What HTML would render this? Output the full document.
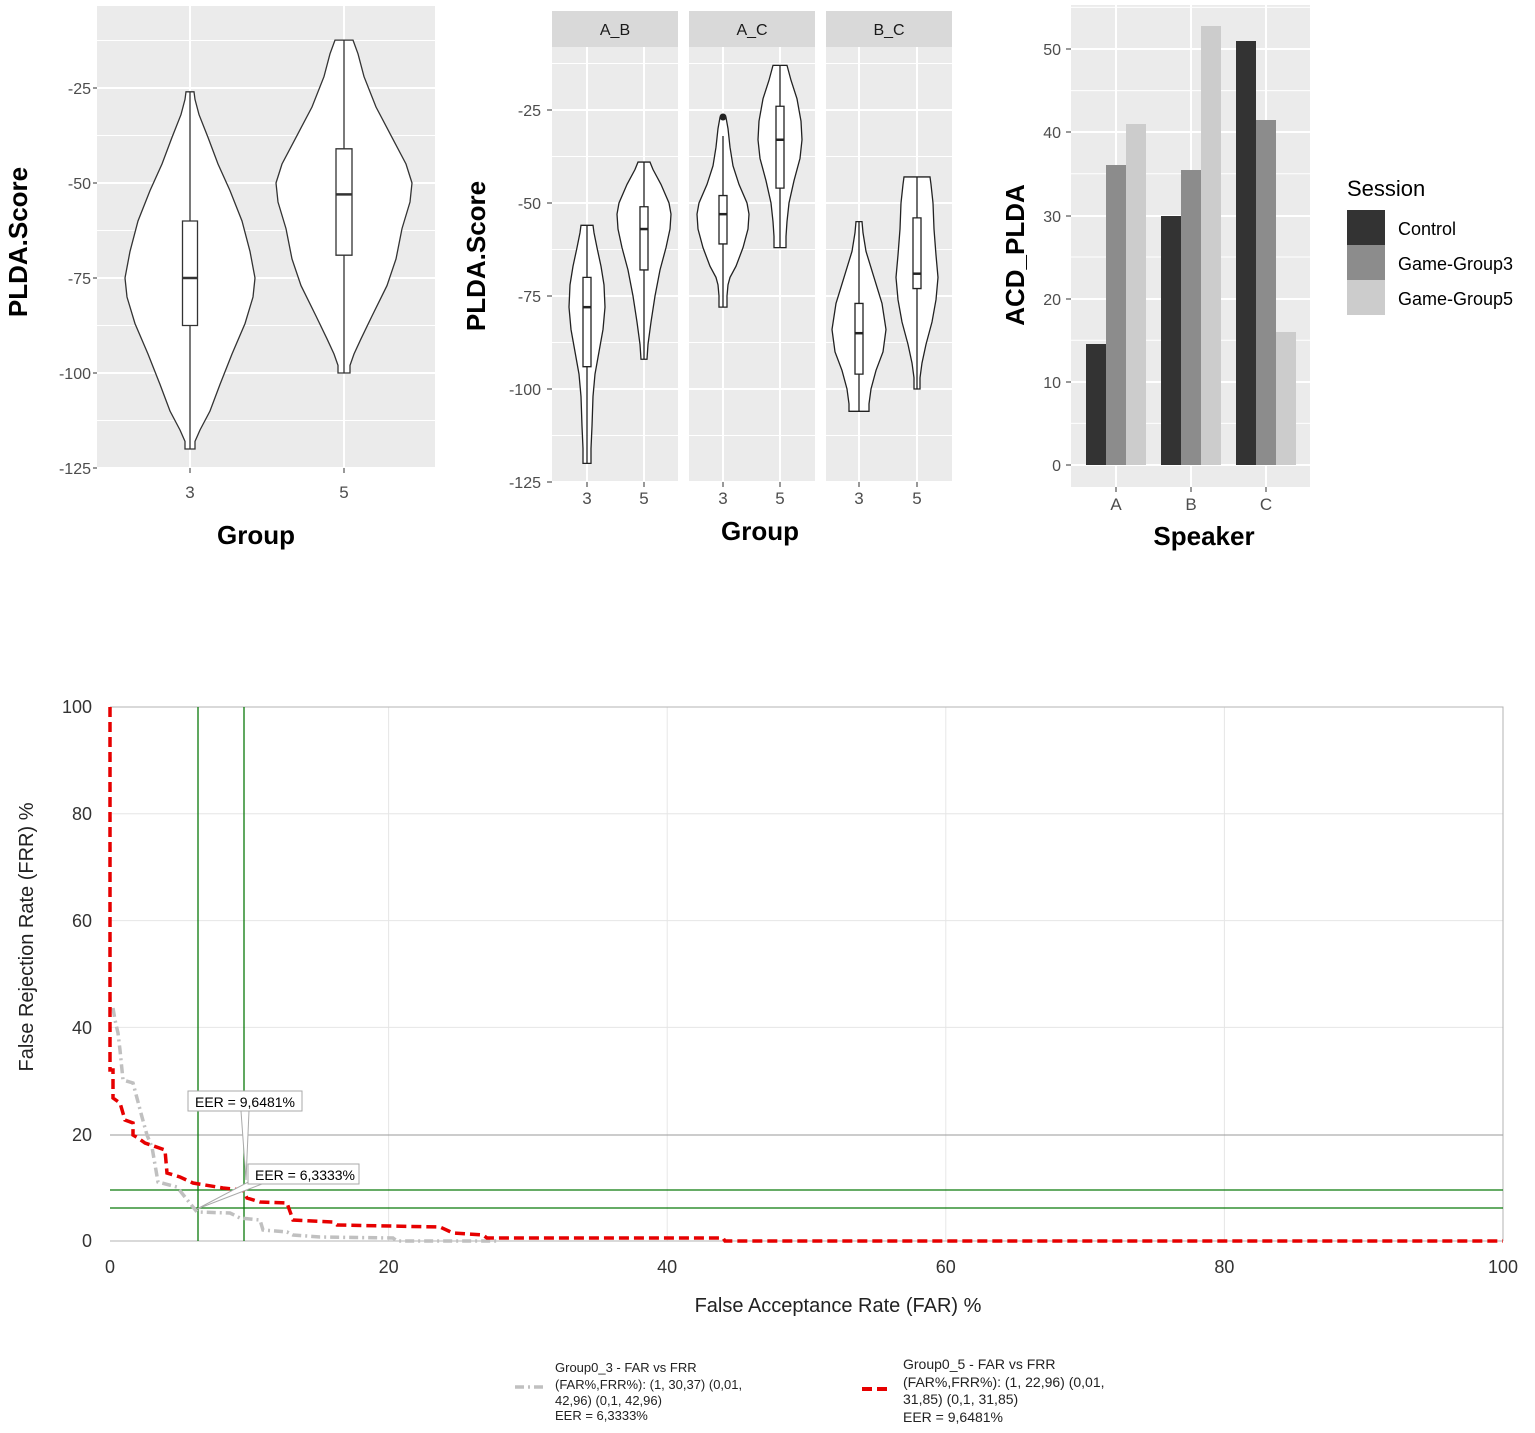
<!DOCTYPE html>
<html><head><meta charset="utf-8"><style>
body{margin:0;background:#fff;}
svg{display:block;font-family:"Liberation Sans",sans-serif;}
</style></head><body>
<svg width="1535" height="1433" viewBox="0 0 1535 1433" xmlns="http://www.w3.org/2000/svg">
<rect width="1535" height="1433" fill="#fff"/>

<!-- ===== Panel 1 ===== -->
<rect x="97" y="6" width="338" height="462" fill="#ebebeb"/>
<g stroke="#fff" stroke-width="1">
<line x1="97" x2="435" y1="40.5" y2="40.5"/><line x1="97" x2="435" y1="135.5" y2="135.5"/><line x1="97" x2="435" y1="230.5" y2="230.5"/><line x1="97" x2="435" y1="325.5" y2="325.5"/><line x1="97" x2="435" y1="420.5" y2="420.5"/>
</g>
<g stroke="#fff" stroke-width="2">
<line x1="97" x2="435" y1="88" y2="88"/><line x1="97" x2="435" y1="183" y2="183"/><line x1="97" x2="435" y1="278" y2="278"/><line x1="97" x2="435" y1="373" y2="373"/><line x1="97" x2="435" y1="468" y2="468"/>
<line x1="190" x2="190" y1="6" y2="468"/><line x1="344" x2="344" y1="6" y2="468"/>
</g>
<g transform="translate(190,-7) scale(1,3.8)" fill="#fff" stroke="#333" stroke-width="1.3">
<polygon vector-effect="non-scaling-stroke" points="4,26 5,28 9,32 18,38 28,45 40,52 52,60 60,68 65,75 63,80 55,87 42,95 30,103 20,110 10,115 5,118 5,120 -5,120 -5,118 -10,115 -20,110 -30,103 -42,95 -55,87 -63,80 -65,75 -60,68 -52,60 -40,52 -28,45 -18,38 -9,32 -5,28 -4,26"/>
<line vector-effect="non-scaling-stroke" x1="0" x2="0" y1="26" y2="120"/>
<rect vector-effect="non-scaling-stroke" x="-7.5" y="60" width="15" height="27.5"/>
<line vector-effect="non-scaling-stroke" x1="-7.5" x2="7.5" y1="75" y2="75" stroke-width="2.5"/>
</g>
<g transform="translate(344,-7) scale(1,3.8)" fill="#fff" stroke="#333" stroke-width="1.3">
<polygon vector-effect="non-scaling-stroke" points="9,12.4 14,16 20,22 32,30 48,38 62,45 68,50 66,55 58,62 52,70 43,77 28,85 17,91 10,95 6,98 6,100 -6,100 -6,98 -10,95 -17,91 -28,85 -43,77 -52,70 -58,62 -66,55 -68,50 -62,45 -48,38 -32,30 -20,22 -14,16 -9,12.4"/>
<line vector-effect="non-scaling-stroke" x1="0" x2="0" y1="12.4" y2="100"/>
<rect vector-effect="non-scaling-stroke" x="-8" y="41" width="16" height="28"/>
<line vector-effect="non-scaling-stroke" x1="-8" x2="8" y1="53" y2="53" stroke-width="2.5"/>
</g>
<g font-size="16" fill="#4d4d4d" text-anchor="end">
<text x="91" y="94">-25</text><text x="91" y="189">-50</text><text x="91" y="284">-75</text><text x="91" y="379">-100</text><text x="91" y="474">-125</text>
</g>
<g stroke="#333"><line x1="93" x2="97" y1="88" y2="88"/><line x1="93" x2="97" y1="183" y2="183"/><line x1="93" x2="97" y1="278" y2="278"/><line x1="93" x2="97" y1="373" y2="373"/><line x1="93" x2="97" y1="468" y2="468"/>
<line x1="190" x2="190" y1="468" y2="473"/><line x1="344" x2="344" y1="468" y2="473"/></g>
<g font-size="17" fill="#4d4d4d" text-anchor="middle"><text x="190" y="498">3</text><text x="344" y="498">5</text></g>
<text x="256" y="544" font-size="26" font-weight="bold" text-anchor="middle">Group</text>
<text transform="translate(27,242) rotate(-90)" font-size="26" font-weight="bold" text-anchor="middle">PLDA.Score</text>

<!-- ===== Panel 2 ===== -->
<g fill="#d9d9d9"><rect x="552" y="11" width="126" height="36"/><rect x="689" y="11" width="126" height="36"/><rect x="826" y="11" width="126" height="36"/></g>
<g font-size="16" fill="#1a1a1a" text-anchor="middle"><text x="615" y="35">A_B</text><text x="752" y="35">A_C</text><text x="889" y="35">B_C</text></g>
<g fill="#ebebeb"><rect x="552" y="47" width="126" height="435"/><rect x="689" y="47" width="126" height="435"/><rect x="826" y="47" width="126" height="435"/></g>
<g stroke="#fff" stroke-width="1">
<path d="M552 63.5H952M552 156.5H952M552 249.5H952M552 342.5H952M552 435.5H952"/>
</g>
<g stroke="#fff" stroke-width="2">
<path d="M552 110H952M552 203H952M552 296H952M552 389H952M552 482H952M587 47V482M644 47V482M723 47V482M780 47V482M859 47V482M917 47V482"/>
</g>
<rect x="678" y="11" width="11" height="472" fill="#fff"/><rect x="815" y="11" width="11" height="472" fill="#fff"/>
<g fill="#fff" stroke="#222" stroke-width="1.3">
<g transform="translate(587,17) scale(1,3.72)">
<polygon vector-effect="non-scaling-stroke" points="6,56 7,58 10,62 14,67 17,72 18,78 16,84 12,90 8,96 6,102 5,110 4,116 4,120 -4,120 -4,116 -5,110 -6,102 -8,96 -12,90 -16,84 -18,78 -17,72 -14,67 -10,62 -7,58 -6,56"/>
<line vector-effect="non-scaling-stroke" x1="0" x2="0" y1="56" y2="120"/>
<rect vector-effect="non-scaling-stroke" x="-4" y="70" width="8" height="24"/>
<line vector-effect="non-scaling-stroke" x1="-4" x2="4" y1="78" y2="78" stroke-width="2.5"/></g>
<g transform="translate(644,17) scale(1,3.72)">
<polygon vector-effect="non-scaling-stroke" points="6,39 9,41 17,45 25,50 27,53 26,57 22,62 16,68 11,75 7,82 4,88 3,92 -3,92 -4,88 -7,82 -11,75 -16,68 -22,62 -26,57 -27,53 -25,50 -17,45 -9,41 -6,39"/>
<line vector-effect="non-scaling-stroke" x1="0" x2="0" y1="39" y2="92"/>
<rect vector-effect="non-scaling-stroke" x="-4" y="51" width="8" height="17"/>
<line vector-effect="non-scaling-stroke" x1="-4" x2="4" y1="57" y2="57" stroke-width="2.5"/></g>
<g transform="translate(723,17) scale(1,3.72)">
<polygon vector-effect="non-scaling-stroke" points="3,27 5,30 7,35 10,40 16,45 24,50 26,53 25,57 20,62 13,67 7,70 5,72 4,75 4,78 -4,78 -4,75 -5,72 -7,70 -13,67 -20,62 -25,57 -26,53 -24,50 -16,45 -10,40 -7,35 -5,30 -3,27"/>
<line vector-effect="non-scaling-stroke" x1="0" x2="0" y1="32" y2="78"/>
<rect vector-effect="non-scaling-stroke" x="-4" y="48" width="8" height="13"/>
<line vector-effect="non-scaling-stroke" x1="-4" x2="4" y1="53" y2="53" stroke-width="2.5"/></g>
<g transform="translate(780,17) scale(1,3.72)">
<polygon vector-effect="non-scaling-stroke" points="7,13 11,17 17,22 21,28 22,33 20,38 14,44 9,50 7,55 6,59 6,62 -6,62 -6,59 -7,55 -9,50 -14,44 -20,38 -22,33 -21,28 -17,22 -11,17 -7,13"/>
<line vector-effect="non-scaling-stroke" x1="0" x2="0" y1="13" y2="62"/>
<rect vector-effect="non-scaling-stroke" x="-4" y="24" width="8" height="22"/>
<line vector-effect="non-scaling-stroke" x1="-4" x2="4" y1="33" y2="33" stroke-width="2.5"/></g>
<g transform="translate(859,17) scale(1,3.72)">
<polygon vector-effect="non-scaling-stroke" points="3,55 4,58 7,63 15,70 23,77 27,84 24,90 17,95 12,100 10,104 10,106 -10,106 -10,104 -12,100 -17,95 -24,90 -27,84 -23,77 -15,70 -7,63 -4,58 -3,55"/>
<line vector-effect="non-scaling-stroke" x1="0" x2="0" y1="55" y2="106"/>
<rect vector-effect="non-scaling-stroke" x="-4" y="77" width="8" height="19"/>
<line vector-effect="non-scaling-stroke" x1="-4" x2="4" y1="85" y2="85" stroke-width="2.5"/></g>
<g transform="translate(917,17) scale(1,3.72)">
<polygon vector-effect="non-scaling-stroke" points="13,43 14,45 16,50 17,57 19,64 21,70 19,76 15,82 9,88 5,93 3,97 3,100 -3,100 -3,97 -5,93 -9,88 -15,82 -19,76 -21,70 -19,64 -17,57 -16,50 -14,45 -13,43"/>
<line vector-effect="non-scaling-stroke" x1="0" x2="0" y1="43" y2="100"/>
<rect vector-effect="non-scaling-stroke" x="-4" y="54" width="8" height="19"/>
<line vector-effect="non-scaling-stroke" x1="-4" x2="4" y1="69" y2="69" stroke-width="2.5"/></g>
</g>
<circle cx="723" cy="117" r="3.5" fill="#222"/>
<g font-size="16" fill="#4d4d4d" text-anchor="end">
<text x="541" y="116">-25</text><text x="541" y="209">-50</text><text x="541" y="302">-75</text><text x="541" y="395">-100</text><text x="541" y="488">-125</text>
</g>
<g stroke="#333"><path d="M547 110H552M547 203H552M547 296H552M547 389H552M547 482H552M587 482V487M644 482V487M723 482V487M780 482V487M859 482V487M917 482V487"/></g>
<g font-size="17" fill="#4d4d4d" text-anchor="middle"><text x="587" y="504">3</text><text x="644" y="504">5</text><text x="723" y="504">3</text><text x="780" y="504">5</text><text x="859" y="504">3</text><text x="917" y="504">5</text></g>
<text x="760" y="540" font-size="26" font-weight="bold" text-anchor="middle">Group</text>
<text transform="translate(485,256) rotate(-90)" font-size="26" font-weight="bold" text-anchor="middle">PLDA.Score</text>

<!-- ===== Panel 3 ===== -->
<rect x="1071" y="5" width="239" height="482" fill="#ebebeb"/>
<g stroke="#fff" stroke-width="1"><path d="M1071 423.4H1310M1071 340.2H1310M1071 257H1310M1071 173.8H1310M1071 90.6H1310M1071 7.4H1310"/></g>
<g stroke="#fff" stroke-width="2"><path d="M1071 465H1310M1071 382H1310M1071 299H1310M1071 216H1310M1071 132H1310M1071 49H1310M1116 5V487M1191 5V487M1266 5V487"/></g>
<rect x="1086" y="344" width="20" height="121" fill="#333"/>
<rect x="1106" y="165" width="20" height="300" fill="#8c8c8c"/>
<rect x="1126" y="124" width="20" height="341" fill="#cccccc"/>
<rect x="1161" y="216" width="20" height="249" fill="#333"/>
<rect x="1181" y="170" width="20" height="295" fill="#8c8c8c"/>
<rect x="1201" y="26" width="20" height="439" fill="#cccccc"/>
<rect x="1236" y="41" width="20" height="424" fill="#333"/>
<rect x="1256" y="120" width="20" height="345" fill="#8c8c8c"/>
<rect x="1276" y="332" width="20" height="133" fill="#cccccc"/>
<g font-size="16" fill="#4d4d4d" text-anchor="end"><text x="1061" y="471">0</text><text x="1061" y="388">10</text><text x="1061" y="305">20</text><text x="1061" y="222">30</text><text x="1061" y="138">40</text><text x="1061" y="55">50</text></g>
<g stroke="#333"><path d="M1066 465H1071M1066 382H1071M1066 299H1071M1066 216H1071M1066 132H1071M1066 49H1071M1116 487V492M1191 487V492M1266 487V492"/></g>
<g font-size="17" fill="#4d4d4d" text-anchor="middle"><text x="1116" y="510">A</text><text x="1191" y="510">B</text><text x="1266" y="510">C</text></g>
<text x="1204" y="545" font-size="26" font-weight="bold" text-anchor="middle">Speaker</text>
<text transform="translate(1024,255) rotate(-90)" font-size="26" font-weight="bold" text-anchor="middle">ACD_PLDA</text>
<text x="1347" y="196" font-size="22">Session</text>
<rect x="1347" y="210" width="38" height="35" fill="#333"/>
<rect x="1347" y="245" width="38" height="35" fill="#8c8c8c"/>
<rect x="1347" y="280" width="38" height="35" fill="#cccccc"/>
<g font-size="18"><text x="1398" y="235">Control</text><text x="1398" y="270">Game-Group3</text><text x="1398" y="305">Game-Group5</text></g>

<!-- ===== Bottom DET chart ===== -->
<g stroke="#e6e6e6" stroke-width="1"><path d="M388.6 707V1241M667.2 707V1241M945.8 707V1241M1224.4 707V1241M110 1027.4H1503M110 920.6H1503M110 813.8H1503"/></g>
<path d="M110 707H1503V1241" fill="none" stroke="#b3b3b3" stroke-width="1"/>
<line x1="110" x2="1503" y1="1135" y2="1135" stroke="#9a9a9a" stroke-width="1"/>
<line x1="110" x2="1503" y1="1241" y2="1241" stroke="#b3b3b3" stroke-width="1"/>
<g stroke="#0a7a0a" stroke-width="1.3"><path d="M198 707V1241M244 707V1241M110 1190H1503M110 1208H1503"/></g>
<polyline fill="none" stroke="#c0c0c0" stroke-width="3.5" stroke-dasharray="9,4,2,4" points="113,1008 115,1020 118,1033 120,1050 123,1080 133,1083 142,1117 147,1135 152,1147 153,1153 158,1182 177,1187 193,1207 197,1212 230,1213 240,1218 260,1220 263,1230 287,1232 293,1235 320,1237 393,1238 397,1241 500,1241"/>
<polyline fill="none" stroke="#e60000" stroke-width="3.5" stroke-dasharray="10,5" points="110,707 110,1070 113,1070 113,1098 120,1103 125,1120 133,1123 133,1135 138,1138 145,1143 165,1150 167,1173 180,1177 193,1183 223,1188 243,1190 247,1198 260,1202 287,1203 293,1220 333,1222 337,1225 440,1227 453,1233 483,1235 487,1238 723,1238 725,1241 1503,1241"/>
<!-- EER labels -->
<polygon points="241,1111 249,1111 246,1180" fill="#fff" stroke="#aaa" stroke-width="1"/>
<rect x="188" y="1091" width="114" height="20" fill="#fff" stroke="#aaa"/>
<text x="195" y="1107" font-size="14">EER = 9,6481%</text>
<polygon points="252,1180 262,1184 197,1209" fill="#fff" stroke="#aaa" stroke-width="1"/>
<rect x="248" y="1164" width="111" height="20" fill="#fff" stroke="#aaa"/>
<text x="255" y="1180" font-size="14">EER = 6,3333%</text>
<g font-size="18" fill="#333" text-anchor="end"><text x="92" y="713">100</text><text x="92" y="820">80</text><text x="92" y="927">60</text><text x="92" y="1034">40</text><text x="92" y="1141">20</text><text x="92" y="1247">0</text></g>
<g font-size="18" fill="#333" text-anchor="middle"><text x="110" y="1273">0</text><text x="388.6" y="1273">20</text><text x="667.2" y="1273">40</text><text x="945.8" y="1273">60</text><text x="1224.4" y="1273">80</text><text x="1503" y="1273">100</text></g>
<text x="838" y="1312" font-size="20" text-anchor="middle" fill="#222">False Acceptance Rate (FAR) %</text>
<text transform="translate(33,937) rotate(-90)" font-size="20" text-anchor="middle" fill="#222">False Rejection Rate (FRR) %</text>
<!-- legend -->
<line x1="515" x2="545" y1="1387" y2="1387" stroke="#c0c0c0" stroke-width="3.5" stroke-dasharray="9,4,2,4"/>
<g font-size="13" fill="#222"><text x="555" y="1372">Group0_3 - FAR vs FRR</text><text x="555" y="1389">(FAR%,FRR%): (1, 30,37) (0,01,</text><text x="555" y="1405">42,96) (0,1, 42,96)</text><text x="555" y="1420">EER = 6,3333%</text></g>
<line x1="862" x2="892" y1="1389" y2="1389" stroke="#e60000" stroke-width="4" stroke-dasharray="10,5"/>
<g font-size="14" fill="#222"><text x="903" y="1369">Group0_5 - FAR vs FRR</text><text x="903" y="1387">(FAR%,FRR%): (1, 22,96) (0,01,</text><text x="903" y="1404">31,85) (0,1, 31,85)</text><text x="903" y="1422">EER = 9,6481%</text></g>
</svg>
</body></html>
